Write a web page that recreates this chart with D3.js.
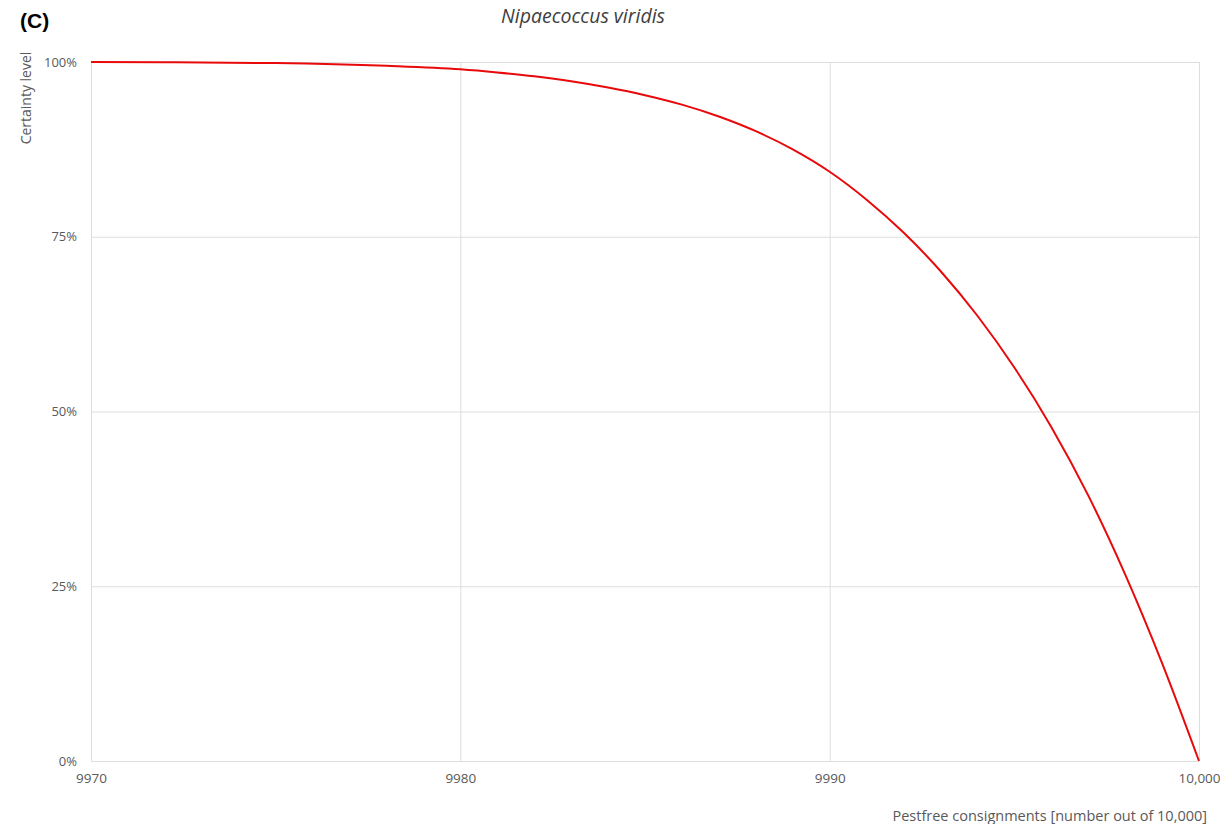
<!DOCTYPE html>
<html>
<head>
<meta charset="utf-8">
<script src="https://cdn.jsdelivr.net/npm/d3@7"></script>
<style>
  body { margin: 0; background: #fff; }
  svg text { font-family: "Open Sans", "Noto Sans", sans-serif; }
</style>
</head>
<body>
<div id="chart"></div>
<script>
// values
const consignments = [9970, 9972, 9975, 9978, 9980, 9981, 9982, 9983, 9984, 9985, 9986, 9987, 9988, 9989,
                      9990, 9991, 9992, 9993, 9994, 9995, 9996, 9997, 9998, 9999, 10000];
const certainty = [1.000, 0.9997, 0.9985, 0.9945, 0.9895, 0.985, 0.9795, 0.9725, 0.9635, 0.9525, 0.939, 0.922, 0.901, 0.875,
                   0.843, 0.803, 0.756, 0.701, 0.637, 0.563, 0.478, 0.380, 0.267, 0.140, 0.0];
const xTicks = [9970, 9980, 9990, 10000];
const yTicks = [0, 0.25, 0.5, 0.75, 1];

function main(){
  const W = 1220, H = 824;
  const margin = {top: 62, right: 21, bottom: 63, left: 91};
  const width = W - margin.left - margin.right;
  const height = H - margin.top - margin.bottom;

  const svg = d3.select("#chart")
    .append("svg")
    .attr("width", W)
    .attr("height", H);

  const g = svg.append("g")
    .attr("transform", `translate(${margin.left}, ${margin.top})`);

  const x = d3.scaleLinear().domain([9970, 10000]).range([0, width]);
  const y = d3.scaleLinear().domain([0, 1]).range([height, 0]);

  // grid
  g.append("g")
    .call(d3.axisLeft(y).tickValues(yTicks).tickSize(-width).tickFormat(""))
    .call(a => a.select(".domain").remove())
    .selectAll("line").attr("stroke", "#dedede");
  g.append("g")
    .attr("transform", `translate(0, ${height})`)
    .call(d3.axisBottom(x).tickValues(xTicks).tickSize(-height).tickFormat(""))
    .call(a => a.select(".domain").remove())
    .selectAll("line").attr("stroke", "#dedede");

  // tick labels
  const yAx = g.append("g")
    .call(d3.axisLeft(y).tickValues(yTicks).tickSize(0).tickPadding(14).tickFormat(d3.format(".0%")));
  yAx.select(".domain").remove();
  yAx.selectAll("text").attr("fill", "#595959").style("font-size", "13px");

  const xAx = g.append("g")
    .attr("transform", `translate(0, ${height})`)
    .call(d3.axisBottom(x).tickValues(xTicks).tickSize(0).tickPadding(12)
      .tickFormat(d => d === 10000 ? "10,000" : d));
  xAx.select(".domain").remove();
  xAx.selectAll("text").attr("fill", "#595959").style("font-size", "13.5px");

  // curve
  g.append("path")
    .datum(consignments.map((c, i) => ({x: c, y: certainty[i]})))
    .attr("fill", "none")
    .attr("stroke", "#e8090b")
    .attr("stroke-width", 2)
    .attr("d", d3.line()
      .x(d => x(d.x))
      .y(d => y(d.y))
      .curve(d3.curveMonotoneX));

  // titles
  svg.append("text")
    .attr("x", 20).attr("y", 28)
    .style("font-family", "'Liberation Sans', Arial, sans-serif")
    .style("font-weight", "bold").style("font-size", "21px")
    .attr("fill", "#000")
    .text("(C)");

  svg.append("text")
    .attr("x", 583).attr("y", 23)
    .attr("text-anchor", "middle")
    .style("font-style", "italic").style("font-size", "19.5px")
    .attr("fill", "#404040")
    .text("Nipaecoccus viridis");

  svg.append("text")
    .attr("transform", "translate(31, 98) rotate(-90)")
    .attr("text-anchor", "middle")
    .style("font-size", "14px")
    .attr("fill", "#595959")
    .text("Certainty level");

  svg.append("text")
    .attr("x", 1207).attr("y", 821)
    .attr("text-anchor", "end")
    .style("font-size", "14.5px")
    .attr("fill", "#595959")
    .text("Pestfree consignments [number out of 10,000]");
}

main();
</script>
</body>
</html>
